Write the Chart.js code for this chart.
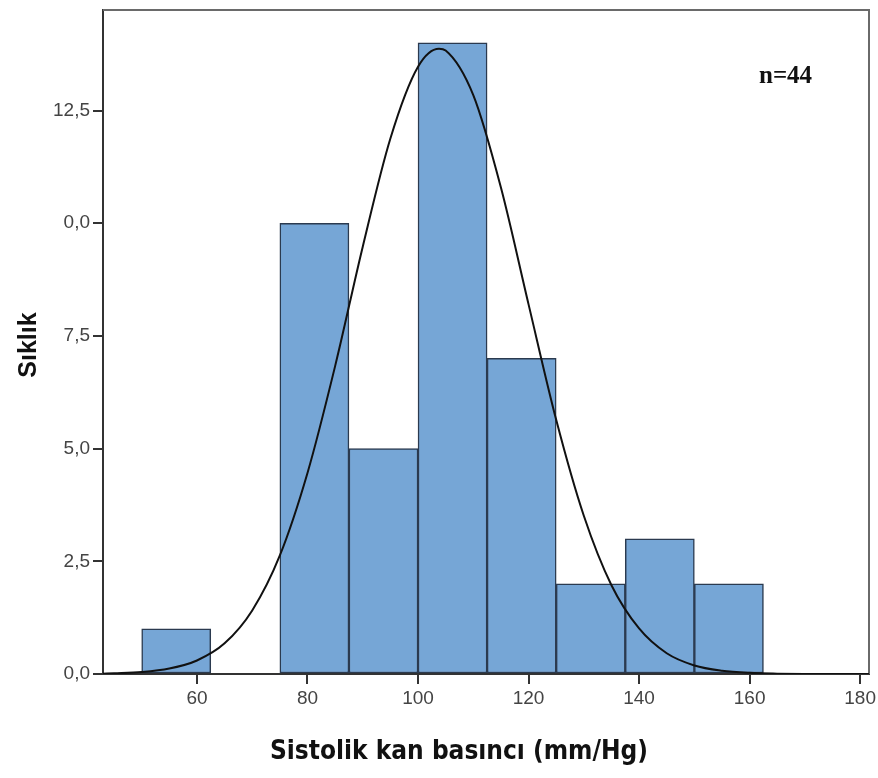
<!DOCTYPE html>
<html>
<head>
<meta charset="utf-8">
<script src="https://cdn.jsdelivr.net/npm/chart.js@4/dist/chart.umd.min.js"></script>
<style>
  html, body { margin: 0; padding: 0; background: #ffffff; }
  #wrap { width: 878px; height: 778px; position: relative; }
</style>
</head>
<body>
<div id="wrap"><canvas id="c" width="878" height="778"></canvas></div>
<script>
// ---- Data ----
const binStarts = [50, 62.5, 75, 87.5, 100, 112.5, 125, 137.5, 150];
const binWidth = 12.5;
const counts = [1, 0, 10, 5, 14, 7, 2, 3, 2];

// Normal curve (x, frequency)
const curveX = [43, 45, 50, 55, 60, 65, 70, 75, 80, 85, 90, 95, 100, 103.8, 105, 110, 115, 120, 125, 130, 135, 140, 145, 150, 155, 160, 165, 170, 175, 181.6];
const curveY = [0.006, 0.014, 0.042, 0.12, 0.30, 0.68, 1.41, 2.63, 4.46, 6.83, 9.48, 11.88, 13.47, 13.87, 13.83, 12.84, 10.79, 8.20, 5.64, 3.51, 1.97, 1.01, 0.46, 0.19, 0.073, 0.025, 0.008, 0.002, 0.0005, 0.0];

const xTicks = [60, 80, 100, 120, 140, 160, 180];
const yTicks = [0, 2.5, 5, 7.5, 10, 12.5];
const yTickLabels = ["0,0", "2,5", "5,0", "7,5", "0,0", "12,5"];

const xTitle = "Sistolik kan basıncı (mm/Hg)";
const yTitle = "Sıklık";
const noteText = "n=44";
const noteAt = { x: 166.5, y: 13.25 };

// ---- Build datasets ----
const barData = binStarts.map((s, i) => ({ x: s + binWidth / 2, y: counts[i] }));
const curveData = curveX.map((x, i) => ({ x: x, y: curveY[i] }));

const framePlugin = {
  id: 'frame',
  beforeDatasetsDraw(chart) {
    const { ctx, chartArea: a } = chart;
    ctx.save();
    ctx.strokeStyle = '#6a6a6a';
    ctx.lineWidth = 2;
    ctx.beginPath();
    ctx.moveTo(a.left, a.top);
    ctx.lineTo(a.right, a.top);
    ctx.lineTo(a.right, a.bottom);
    ctx.stroke();
    ctx.restore();
  },
  afterDraw(chart) {
    const { ctx, scales } = chart;
    ctx.save();
    ctx.fillStyle = '#111';
    ctx.font = 'bold 25px "Liberation Sans", Arial, sans-serif';
    ctx.textAlign = 'center';
    ctx.textBaseline = 'middle';
    ctx.translate(29, 345);
    ctx.rotate(-Math.PI / 2);
    ctx.fillText(yTitle, 0, 0);
    ctx.restore();

    ctx.save();
    ctx.fillStyle = '#111';
    ctx.font = 'bold 26px "Liberation Sans Narrow", "DejaVu Sans Condensed", sans-serif';
    ctx.textAlign = 'center';
    ctx.textBaseline = 'middle';
    ctx.fillText(xTitle, 459, 752);
    ctx.restore();

    ctx.save();
    ctx.fillStyle = '#111';
    ctx.font = 'bold 25px "Liberation Serif", "Times New Roman", serif';
    ctx.textAlign = 'center';
    ctx.textBaseline = 'middle';
    ctx.fillText(noteText, scales.x.getPixelForValue(noteAt.x), scales.y.getPixelForValue(noteAt.y));
    ctx.restore();
  }
};

new Chart(document.getElementById('c'), {
  type: 'bar',
  data: {
    datasets: [
      {
        type: 'line',
        data: curveData,
        borderColor: '#111',
        borderWidth: 2,
        pointRadius: 0,
        fill: false,
        cubicInterpolationMode: 'monotone',
        order: 1
      },
      {
        type: 'bar',
        data: barData,
        backgroundColor: '#76a6d6',
        borderColor: '#2b3a4f',
        borderWidth: 1.5,
        borderSkipped: false,
        barPercentage: 1.0,
        categoryPercentage: 1.0,
        order: 2
      }
    ]
  },
  options: {
    responsive: false,
    animation: false,
    devicePixelRatio: 1,
    layout: { padding: { top: 10, right: 9, left: 0, bottom: 0 } },
    plugins: { legend: { display: false }, tooltip: { enabled: false }, title: { display: false } },
    scales: {
      x: {
        type: 'linear',
        offset: false,
        min: 43,
        max: 181.6,
        afterBuildTicks(s) { s.ticks = xTicks.map(v => ({ value: v })); },
        afterFit(s) { s.height = 104; s.paddingLeft = 0; s.paddingRight = 0; },
        grid: { display: true, offset: false, drawOnChartArea: false, drawTicks: true, tickLength: 10, color: '#333', lineWidth: 2 },
        border: { display: true, color: '#333', width: 2 },
        ticks: {
          color: '#444',
          padding: 3,
          maxRotation: 0,
          autoSkip: false,
          font: { family: '"Liberation Sans", Arial, sans-serif', size: 19 },
          callback: (v) => String(v)
        }
      },
      y: {
        type: 'linear',
        min: 0,
        max: 14.73,
        afterBuildTicks(s) { s.ticks = yTicks.map(v => ({ value: v })); },
        afterFit(s) { s.width = 103; s.paddingTop = 0; s.paddingBottom = 0; },
        grid: { display: true, drawOnChartArea: false, drawTicks: true, tickLength: 10, color: '#333', lineWidth: 2 },
        border: { display: true, color: '#333', width: 2 },
        ticks: {
          color: '#444',
          padding: 3,
          autoSkip: false,
          font: { family: '"Liberation Sans", Arial, sans-serif', size: 19 },
          callback: (v, i) => yTickLabels[i]
        }
      }
    }
  },
  plugins: [framePlugin]
});
</script>
</body>
</html>
